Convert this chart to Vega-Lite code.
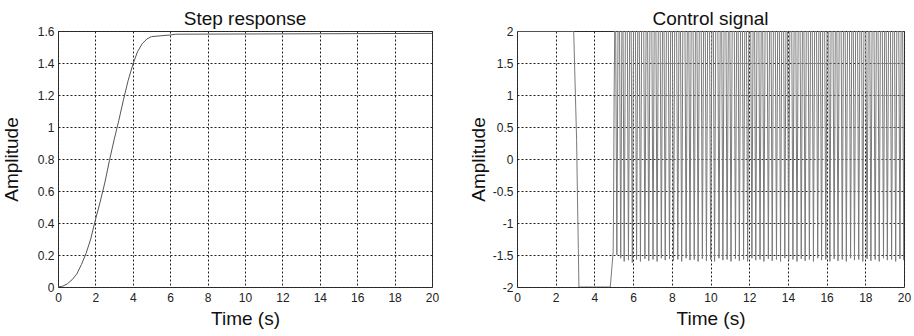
{
"$schema": "https://vega.github.io/schema/vega-lite/v6.json",
"background": "white",
"padding": {"left": 1, "top": 9, "right": 8, "bottom": 2},
"bounds": "flush",
"spacing": 85,
"config": {
 "font": "Liberation Sans",
 "view": {"stroke": "#333", "strokeWidth": 1},
 "axis": {"grid": true, "gridColor": "#222", "gridDash": [2, 2], "gridWidth": 1, "domain": false, "ticks": false, "labelFont": "Liberation Sans", "labelFontSize": 12, "labelColor": "#222", "labelOverlap": false, "labelFlush": false, "titleFont": "Liberation Sans", "titleFontSize": 19, "titleFontWeight": "normal", "titleColor": "#111"},
 "title": {"fontSize": 19, "fontWeight": "normal", "color": "#111", "anchor": "middle", "frame": "group", "offset": -4}
},
"hconcat": [
 {
  "title": "Step response",
  "width": 374, "height": 256,
  "data": {"values": [
   {"t": 0, "a": 0}, {"t": 0.25, "a": 0.005}, {"t": 0.5, "a": 0.02}, {"t": 0.75, "a": 0.045}, {"t": 1.0, "a": 0.08},
   {"t": 1.25, "a": 0.14}, {"t": 1.5, "a": 0.21}, {"t": 1.75, "a": 0.3}, {"t": 2.0, "a": 0.42}, {"t": 2.25, "a": 0.53},
   {"t": 2.5, "a": 0.65}, {"t": 2.75, "a": 0.79}, {"t": 3.0, "a": 0.92}, {"t": 3.25, "a": 1.04}, {"t": 3.5, "a": 1.17},
   {"t": 3.75, "a": 1.29}, {"t": 4.0, "a": 1.39}, {"t": 4.25, "a": 1.47}, {"t": 4.5, "a": 1.52}, {"t": 4.75, "a": 1.55},
   {"t": 5.0, "a": 1.565}, {"t": 5.5, "a": 1.57}, {"t": 6.0, "a": 1.575}, {"t": 6.3, "a": 1.58}, {"t": 20, "a": 1.585}
  ]},
  "mark": {"type": "line", "color": "#555", "strokeWidth": 1, "clip": true},
  "encoding": {
   "x": {"field": "t", "type": "quantitative", "scale": {"domain": [0, 20], "nice": false}, "axis": {"title": "Time (s)", "values": [0, 2, 4, 6, 8, 10, 12, 14, 16, 18, 20], "labelPadding": 5, "titlePadding": 6}},
   "y": {"field": "a", "type": "quantitative", "scale": {"domain": [0, 1.6], "nice": false}, "axis": {"title": "Amplitude", "values": [0, 0.2, 0.4, 0.6, 0.8, 1, 1.2, 1.4, 1.6], "labelExpr": "'' + datum.value", "labelPadding": 4, "titlePadding": 16}}
  }
 },
 {
  "title": "Control signal",
  "width": 387, "height": 256,
  "data": {"values": [
   {"t": 0, "u": 2}, {"t": 2.93, "u": 2}, {"t": 3.0, "u": 1.2}, {"t": 3.08, "u": 0.3}, {"t": 3.12, "u": -0.5}, {"t": 3.17, "u": -1.4}, {"t": 3.2, "u": -2},
   {"t": 4.82, "u": -2}, {"t": 4.97, "u": -1.45}, {"t": 4.99, "u": -0.75}, {"t": 5.02, "u": 1.0}, {"t": 5.05, "u": 2},
   {"t": 5.10, "u": 2}, {"t": 5.16, "u": -1.50}, {"t": 5.22, "u": 2},
   {"t": 5.30, "u": 2}, {"t": 5.36, "u": -1.55}, {"t": 5.42, "u": 2},
   {"t": 5.48, "u": 2}, {"t": 5.54, "u": -1.60}, {"t": 5.60, "u": 2},
   {"t": 5.70, "u": 2}, {"t": 5.76, "u": -1.58}, {"t": 5.82, "u": 2},
   {"t": 5.90, "u": 2}, {"t": 5.96, "u": -1.62}, {"t": 6.02, "u": 2},
   {"t": 6.12, "u": 2}, {"t": 6.18, "u": -1.57}, {"t": 6.24, "u": 2},
   {"t": 6.32, "u": 2}, {"t": 6.38, "u": -1.60}, {"t": 6.44, "u": 2},
   {"t": 6.55, "u": 2}, {"t": 6.61, "u": -1.56}, {"t": 6.67, "u": 2},
   {"t": 6.75, "u": 2}, {"t": 6.81, "u": -1.59}, {"t": 6.87, "u": 2},
   {"t": 6.97, "u": 2}, {"t": 7.03, "u": -1.57}, {"t": 7.09, "u": 2},
   {"t": 7.18, "u": 2}, {"t": 7.24, "u": -1.60}, {"t": 7.30, "u": 2},
   {"t": 7.40, "u": 2}, {"t": 7.46, "u": -1.55}, {"t": 7.52, "u": 2},
   {"t": 7.60, "u": 2}, {"t": 7.66, "u": -1.58}, {"t": 7.72, "u": 2},
   {"t": 7.82, "u": 2}, {"t": 7.88, "u": -1.56}, {"t": 7.94, "u": 2},
   {"t": 8.03, "u": 2}, {"t": 8.09, "u": -1.59}, {"t": 8.15, "u": 2},
   {"t": 8.25, "u": 2}, {"t": 8.31, "u": -1.57}, {"t": 8.37, "u": 2},
   {"t": 8.45, "u": 2}, {"t": 8.51, "u": -1.60}, {"t": 8.57, "u": 2},
   {"t": 8.68, "u": 2}, {"t": 8.74, "u": -1.55}, {"t": 8.80, "u": 2},
   {"t": 8.88, "u": 2}, {"t": 8.94, "u": -1.58}, {"t": 9.00, "u": 2},
   {"t": 9.10, "u": 2}, {"t": 9.16, "u": -1.57}, {"t": 9.22, "u": 2},
   {"t": 9.30, "u": 2}, {"t": 9.36, "u": -1.60}, {"t": 9.42, "u": 2},
   {"t": 9.52, "u": 2}, {"t": 9.58, "u": -1.56}, {"t": 9.64, "u": 2},
   {"t": 9.73, "u": 2}, {"t": 9.79, "u": -1.59}, {"t": 9.85, "u": 2},
   {"t": 9.95, "u": 2}, {"t": 10.01, "u": -1.57}, {"t": 10.07, "u": 2},
   {"t": 10.15, "u": 2}, {"t": 10.21, "u": -1.60}, {"t": 10.27, "u": 2},
   {"t": 10.38, "u": 2}, {"t": 10.44, "u": -1.55}, {"t": 10.50, "u": 2},
   {"t": 10.58, "u": 2}, {"t": 10.64, "u": -1.58}, {"t": 10.70, "u": 2},
   {"t": 10.80, "u": 2}, {"t": 10.86, "u": -1.57}, {"t": 10.92, "u": 2},
   {"t": 11.00, "u": 2}, {"t": 11.06, "u": -1.60}, {"t": 11.12, "u": 2},
   {"t": 11.23, "u": 2}, {"t": 11.29, "u": -1.56}, {"t": 11.35, "u": 2},
   {"t": 11.43, "u": 2}, {"t": 11.49, "u": -1.59}, {"t": 11.55, "u": 2},
   {"t": 11.65, "u": 2}, {"t": 11.71, "u": -1.57}, {"t": 11.77, "u": 2},
   {"t": 11.86, "u": 2}, {"t": 11.92, "u": -1.60}, {"t": 11.98, "u": 2},
   {"t": 12.08, "u": 2}, {"t": 12.14, "u": -1.55}, {"t": 12.20, "u": 2},
   {"t": 12.28, "u": 2}, {"t": 12.34, "u": -1.58}, {"t": 12.40, "u": 2},
   {"t": 12.50, "u": 2}, {"t": 12.56, "u": -1.57}, {"t": 12.62, "u": 2},
   {"t": 12.70, "u": 2}, {"t": 12.76, "u": -1.60}, {"t": 12.82, "u": 2},
   {"t": 12.93, "u": 2}, {"t": 12.99, "u": -1.56}, {"t": 13.05, "u": 2},
   {"t": 13.13, "u": 2}, {"t": 13.19, "u": -1.59}, {"t": 13.25, "u": 2},
   {"t": 13.35, "u": 2}, {"t": 13.41, "u": -1.57}, {"t": 13.47, "u": 2},
   {"t": 13.56, "u": 2}, {"t": 13.62, "u": -1.60}, {"t": 13.68, "u": 2},
   {"t": 13.78, "u": 2}, {"t": 13.84, "u": -1.55}, {"t": 13.90, "u": 2},
   {"t": 13.98, "u": 2}, {"t": 14.04, "u": -1.58}, {"t": 14.10, "u": 2},
   {"t": 14.20, "u": 2}, {"t": 14.26, "u": -1.57}, {"t": 14.32, "u": 2},
   {"t": 14.41, "u": 2}, {"t": 14.47, "u": -1.60}, {"t": 14.53, "u": 2},
   {"t": 14.63, "u": 2}, {"t": 14.69, "u": -1.56}, {"t": 14.75, "u": 2},
   {"t": 14.83, "u": 2}, {"t": 14.89, "u": -1.59}, {"t": 14.95, "u": 2},
   {"t": 15.05, "u": 2}, {"t": 15.11, "u": -1.57}, {"t": 15.17, "u": 2},
   {"t": 15.26, "u": 2}, {"t": 15.32, "u": -1.60}, {"t": 15.38, "u": 2},
   {"t": 15.48, "u": 2}, {"t": 15.54, "u": -1.55}, {"t": 15.60, "u": 2},
   {"t": 15.68, "u": 2}, {"t": 15.74, "u": -1.58}, {"t": 15.80, "u": 2},
   {"t": 15.90, "u": 2}, {"t": 15.96, "u": -1.57}, {"t": 16.02, "u": 2},
   {"t": 16.11, "u": 2}, {"t": 16.17, "u": -1.60}, {"t": 16.23, "u": 2},
   {"t": 16.33, "u": 2}, {"t": 16.39, "u": -1.56}, {"t": 16.45, "u": 2},
   {"t": 16.53, "u": 2}, {"t": 16.59, "u": -1.59}, {"t": 16.65, "u": 2},
   {"t": 16.75, "u": 2}, {"t": 16.81, "u": -1.57}, {"t": 16.87, "u": 2},
   {"t": 16.96, "u": 2}, {"t": 17.02, "u": -1.60}, {"t": 17.08, "u": 2},
   {"t": 17.18, "u": 2}, {"t": 17.24, "u": -1.55}, {"t": 17.30, "u": 2},
   {"t": 17.38, "u": 2}, {"t": 17.44, "u": -1.58}, {"t": 17.50, "u": 2},
   {"t": 17.60, "u": 2}, {"t": 17.66, "u": -1.57}, {"t": 17.72, "u": 2},
   {"t": 17.81, "u": 2}, {"t": 17.87, "u": -1.60}, {"t": 17.93, "u": 2},
   {"t": 18.03, "u": 2}, {"t": 18.09, "u": -1.56}, {"t": 18.15, "u": 2},
   {"t": 18.23, "u": 2}, {"t": 18.29, "u": -1.59}, {"t": 18.35, "u": 2},
   {"t": 18.45, "u": 2}, {"t": 18.51, "u": -1.57}, {"t": 18.57, "u": 2},
   {"t": 18.66, "u": 2}, {"t": 18.72, "u": -1.60}, {"t": 18.78, "u": 2},
   {"t": 18.88, "u": 2}, {"t": 18.94, "u": -1.55}, {"t": 19.00, "u": 2},
   {"t": 19.08, "u": 2}, {"t": 19.14, "u": -1.58}, {"t": 19.20, "u": 2},
   {"t": 19.30, "u": 2}, {"t": 19.36, "u": -1.57}, {"t": 19.42, "u": 2},
   {"t": 19.51, "u": 2}, {"t": 19.57, "u": -1.60}, {"t": 19.63, "u": 2},
   {"t": 19.73, "u": 2}, {"t": 19.79, "u": -1.56}, {"t": 19.85, "u": 2},
   {"t": 19.93, "u": 2}, {"t": 19.99, "u": -1.58}, {"t": 20.05, "u": 2}
  ]},
  "mark": {"type": "line", "color": "#7a7a7a", "strokeWidth": 1, "clip": true},
  "encoding": {
   "x": {"field": "t", "type": "quantitative", "scale": {"domain": [0, 20], "nice": false}, "axis": {"title": "Time (s)", "values": [0, 2, 4, 6, 8, 10, 12, 14, 16, 18, 20], "labelPadding": 5, "titlePadding": 6}},
   "y": {"field": "u", "type": "quantitative", "scale": {"domain": [-2, 2], "nice": false}, "axis": {"title": "Amplitude", "values": [-2, -1.5, -1, -0.5, 0, 0.5, 1, 1.5, 2], "labelExpr": "'' + datum.value", "labelPadding": 4, "titlePadding": 4}}
  }
 }
]
}
